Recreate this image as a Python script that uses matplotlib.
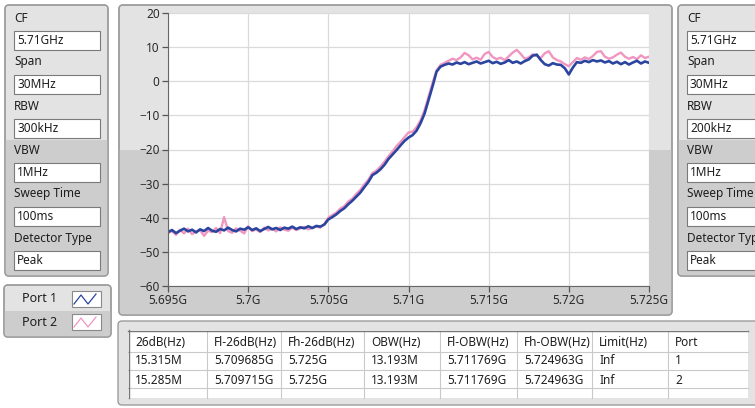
import numpy as np
import matplotlib
matplotlib.use('Agg')
import matplotlib.pyplot as plt
import matplotlib.transforms as mtransforms
from matplotlib.patches import FancyBboxPatch, Rectangle
from matplotlib.lines import Line2D
from matplotlib.ticker import FuncFormatter

plt.rcParams['font.family'] = ['Noto Sans', 'DejaVu Sans']

W, H = 755, 408

f_start = 5.695e9
f_stop = 5.725e9

# port 1 trace, dB, sweep points 0.25 MHz apart
port1_flat = [-44.2, -43.6, -44.5, -43.8, -43.2, -44.0, -43.5, -44.3, -43.4, -43.9,
              -43.0, -43.8, -44.1, -43.3, -43.7, -42.9, -43.6, -44.0, -43.2, -43.5,
              -42.8, -43.6, -43.1, -43.9, -43.3, -42.7, -43.4, -43.0, -43.6, -42.9,
              -43.2, -42.6, -43.3, -42.8, -43.1, -42.5, -43.0, -42.4, -42.6]
port1_rise = [-42.0, -40.5, -39.8, -39.0, -38.0, -37.2, -36.0, -35.0, -33.8, -32.6,
              -31.0, -29.5, -27.5, -26.8, -25.8, -24.5, -22.8, -21.5, -20.2, -18.8,
              -17.5, -16.5, -15.8, -14.5, -12.3, -9.5, -5.5, -1.5, 2.8, 4.3]
port1_top = [4.8, 5.2, 4.9, 5.5, 5.1, 5.6, 5.0, 5.4, 5.8, 5.2, 5.6, 6.0,
             5.3, 5.7, 5.1, 5.5, 6.2, 5.4, 5.8, 5.2, 5.9, 6.4, 7.5, 7.8,
             6.2, 5.0, 4.6, 5.3, 4.9, 4.8, 3.8, 2.0, 4.0, 5.6, 5.4, 6.0,
             5.6, 6.2, 5.8, 6.1, 5.5, 5.9, 5.2, 5.7, 5.0, 5.6, 4.9, 5.5,
             6.0, 5.2, 5.8, 5.4]

# port 2 trace
port2_flat = [-44.5, -43.9, -45.0, -43.5, -44.6, -43.2, -44.8, -44.0, -43.6, -45.3,
              -43.8, -44.2, -43.0, -44.5, -39.8, -43.9, -44.4, -43.1, -43.8, -44.6,
              -42.5, -43.9, -43.4, -44.2, -42.9, -43.7, -43.2, -44.0, -42.8, -43.5,
              -43.8, -42.9, -43.6, -43.1, -42.7, -43.4, -43.0, -42.6, -42.9]
port2_rise = [-41.8, -40.0, -39.2, -38.5, -37.3, -36.6, -35.2, -34.4, -33.0, -31.8,
              -30.2, -28.8, -26.9, -26.2, -25.0, -23.6, -22.0, -20.6, -19.0, -17.8,
              -16.4, -15.0, -14.8, -13.5, -11.5, -8.5, -4.5, -0.5, 3.2, 4.8]
port2_top = [5.4, 6.0, 6.6, 6.2, 7.0, 8.3, 7.6, 6.4, 6.9, 6.3, 8.0, 8.6,
             7.1, 6.5, 6.9, 6.2, 7.3, 8.4, 9.2, 8.0, 6.6, 7.0, 7.9, 7.4,
             6.8, 8.2, 8.8, 7.0, 6.2, 5.8, 5.0, 4.4, 5.6, 6.8, 6.3, 7.0,
             6.5, 7.4, 8.6, 8.8, 7.2, 6.6, 7.0, 7.8, 8.4, 7.2, 6.6, 7.1,
             6.5, 7.6, 6.8, 7.2]

port1_db = port1_flat + port1_rise + port1_top
port2_db = port2_flat + port2_rise + port2_top

x_ticks = [5.695e9, 5.700e9, 5.705e9, 5.710e9, 5.715e9, 5.720e9, 5.725e9]
y_ticks = [-60, -50, -40, -30, -20, -10, 0, 10, 20]

setting_names = ['CF', 'Span', 'RBW', 'VBW', 'Sweep Time', 'Detector Type']
settings_1 = ['5.71GHz', '30MHz', '300kHz', '1MHz', '100ms', 'Peak']
settings_2 = ['5.71GHz', '30MHz', '200kHz', '1MHz', '100ms', 'Peak']

legend_names = ['Port 1', 'Port 2']

table_header = ['26dB(Hz)', 'Fl-26dB(Hz)', 'Fh-26dB(Hz)', 'OBW(Hz)',
                'Fl-OBW(Hz)', 'Fh-OBW(Hz)', 'Limit(Hz)', 'Port']
table_row1 = ['15.315M', '5.709685G', '5.725G', '13.193M', '5.711769G', '5.724963G', 'Inf', '1']
table_row2 = ['15.285M', '5.709715G', '5.725G', '13.193M', '5.711769G', '5.724963G', 'Inf', '2']

blue = '#2b459f'
pink = '#f096c0'
light = '#e3e3e3'
dark = '#cdcdcd'
edge = '#9c9c9c'
txtc = '#1e1e1e'

fig = plt.figure(figsize=(W / 100, H / 100), dpi=100)
fig.patch.set_facecolor('white')
ident = mtransforms.IdentityTransform()


def panel(x0, y0, x1, y1, split=None, r=4, z=-5):
    p = FancyBboxPatch((x0, H - y1), x1 - x0, y1 - y0,
                       boxstyle='round,pad=0,rounding_size=%d' % r,
                       fc=light, ec=edge, lw=1.0, transform=ident, zorder=z)
    fig.add_artist(p)
    if split is not None:
        d = Rectangle((x0, H - y1), x1 - x0, y1 - split, fc=dark, ec='none',
                      transform=ident, zorder=z + 0.1)
        fig.add_artist(d)
        d.set_clip_path(p)
        # redraw outline on top
        p2 = FancyBboxPatch((x0, H - y1), x1 - x0, y1 - y0,
                            boxstyle='round,pad=0,rounding_size=%d' % r,
                            fc='none', ec=edge, lw=1.0, transform=ident, zorder=z + 0.2)
        fig.add_artist(p2)
    return p


def box(x0, y0, x1, y1, fc='white', ec='#7a7a7a', lw=0.8, z=-3):
    fig.add_artist(Rectangle((x0, H - y1), x1 - x0, y1 - y0, fc=fc, ec=ec, lw=lw,
                             transform=ident, zorder=z))


def txt(x, y, s, size=8.5, ha='left', **kw):
    fig.text(x / W, 1 - y / H, s, va='center', ha=ha, fontsize=size, color=txtc, **kw)


def hline(x0, x1, y, c='#c9c9c9', lw=0.8, z=-2):
    fig.add_artist(Line2D([x0, x1], [H - y, H - y], color=c, lw=lw, transform=ident, zorder=z))


def vline(x, y0, y1, c='#c9c9c9', lw=0.8, z=-2):
    fig.add_artist(Line2D([x, x], [H - y0, H - y1], color=c, lw=lw, transform=ident, zorder=z))


# ---- settings panels ----
def settings_panel(x0, x1, values):
    panel(x0, 5, x1, 276, split=140)
    for i, (name, val) in enumerate(zip(setting_names, values)):
        yl = 18 + 44 * i
        yb = yl + 22
        txt(x0 + 9, yl, name)
        box(x0 + 9, yb - 9.5, x0 + 95, yb + 9.5)
        txt(x0 + 12, yb, val)


settings_panel(5, 108, settings_1)
settings_panel(678, 790, settings_2)

# ---- graph frame ----
panel(119, 5, 672, 315, split=150)

ax = fig.add_axes([168 / W, 1 - 286 / H, (649 - 168) / W, (286 - 13) / H])
ax.set_zorder(5)
ax.set_facecolor('white')
freq1 = np.linspace(f_start, f_stop, len(port1_db))
freq2 = np.linspace(f_start, f_stop, len(port2_db))
ax.plot(freq2, port2_db, color=pink, lw=1.7)
ax.plot(freq1, port1_db, color=blue, lw=1.9)
ax.set_xlim(f_start, f_stop)
ax.set_ylim(-60, 20)
ax.set_xticks(x_ticks)
ax.set_yticks(y_ticks)
ax.xaxis.set_major_formatter(FuncFormatter(lambda v, p: '{:g}G'.format(round(v / 1e9, 4))))
ax.grid(True, color='#dadada', lw=0.9)
ax.set_axisbelow(True)
for s in ['top', 'right']:
    ax.spines[s].set_visible(False)
for s in ['left', 'bottom']:
    ax.spines[s].set_color('#666666')
ax.tick_params(direction='out', length=4, width=0.9, color='#555555',
               labelsize=8.5, labelcolor='#2a2a2a', pad=2)

# ---- legend ----
panel(4, 285, 111, 337, split=311)
for i, name in enumerate(legend_names):
    yc = 299 + 23 * i
    txt(22, yc, name, size=9)
    box(72, yc - 8, 101, yc + 8, ec='#8a8a8a', z=-2)
    zx = [74, 81, 88, 96]
    zy = [yc + 5, yc - 4, yc + 5, yc - 5]
    fig.add_artist(Line2D(zx, [H - v for v in zy], color=[blue, pink][i], lw=0.9,
                          transform=ident, zorder=-1))

# ---- results table ----
panel(118, 321, 760, 405, r=4)
col_x = [128, 207, 281, 364, 440, 517, 592, 668, 748]
row_y = [332, 352, 370, 388]
box(128, 330, 748, 398, ec='none', z=-3)
for y in row_y[1:]:
    hline(128, 748, y)
for x in col_x[1:-1]:
    vline(x, 332, 398)
vline(128.5, 330, 398, c='#777777', lw=1.0)
hline(128, 748, 330.5, c='#777777', lw=1.0)
for j in range(len(table_header)):
    tx = col_x[j] + 7
    txt(tx, 342, table_header[j])
    txt(tx, 361, table_row1[j])
    txt(tx, 380, table_row2[j])

fig.savefig('out.png', dpi=100)
